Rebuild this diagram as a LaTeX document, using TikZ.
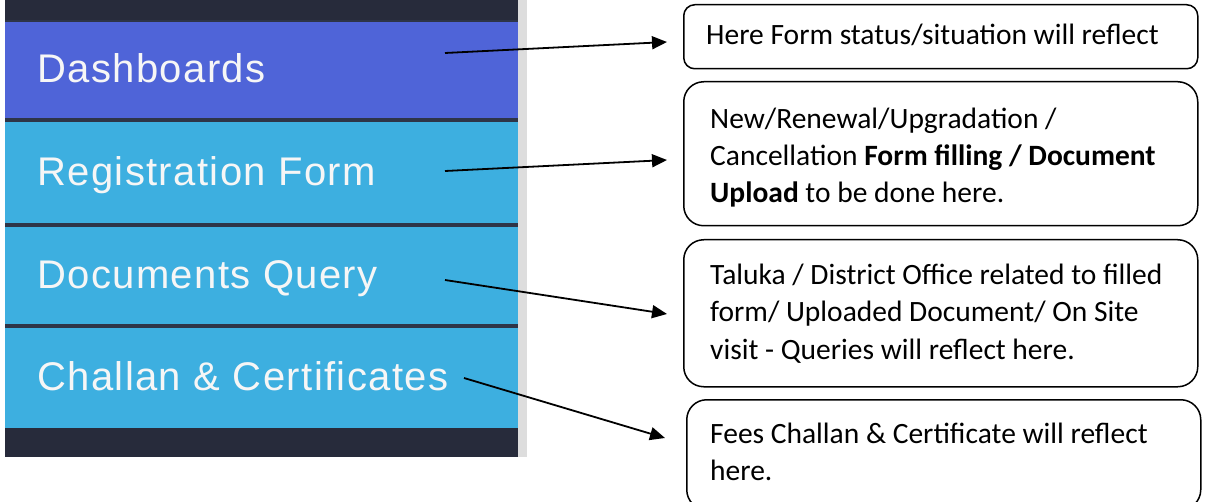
\documentclass[tikz,border=0pt]{standalone}
\usepackage{fontspec}
\setmainfont{Carlito}
\newfontfamily\menufont[LetterSpace=3.5]{Liberation Sans}
\usetikzlibrary{arrows.meta}

\definecolor{navdark}{HTML}{272B3B}
\definecolor{navsep}{HTML}{2E3548}
\definecolor{navactive}{HTML}{4F64D8}
\definecolor{navitem}{HTML}{3DAFE0}
\definecolor{navedge}{HTML}{DDDDDD}
\definecolor{menutext}{HTML}{F6F6F6}

% stack of lines whose baseline is the first line's baseline
\newcommand\notelines[1]{\vtop{\def\nl{\egroup\hbox\bgroup}\hbox\bgroup#1\egroup}}

\tikzset{
  menulabel/.style={anchor=base west, inner sep=0pt, text=menutext,
    font=\menufont\fontsize{40}{40}\selectfont},
  notebox/.style={draw=black, line width=1.5pt, anchor=north west, inner sep=0pt},
  notetext/.style={anchor=base west, inner sep=0pt,
    font=\fontsize{29.5}{37}\selectfont},
  pointer/.style={draw=black, line width=1.8pt,
    -{Triangle[length=15pt,width=13pt]}}
}

\begin{document}
\begin{tikzpicture}[x=1pt,y=-1pt]
  \useasboundingbox (0,0) rectangle (1209,502);
  \fill[white] (0,0) rectangle (1209,502);

  % side menu
  \fill[navedge] (518,0) rectangle (527,457);
  \fill[navdark] (5,0) rectangle (518,457);
  \fill[navsep] (5,20) rectangle (518,428);
  \fill[navactive] (5,22) rectangle (518,118);
  \fill[navitem] (5,122) rectangle (518,223);
  \fill[navitem] (5,227) rectangle (518,324);
  \fill[navitem] (5,328) rectangle (518,428);

  \node[menulabel] (dash) at (37,83)  {Dashboards};
  \node[menulabel] (reg)  at (37,186) {Registration Form};
  \node[menulabel] (docs) at (37,289) {Documents Query};
  \node[menulabel] (chal) at (37,390) {Challan \& Certificates};

  % note boxes
  \node[notebox, rounded corners=11pt, minimum width=514pt, minimum height=64pt]
    (box1) at (683,4) {};
  \node[notebox, rounded corners=20pt, minimum width=514pt, minimum height=144pt]
    (box2) at (683,81) {};
  \node[notebox, rounded corners=20pt, minimum width=514pt, minimum height=147pt]
    (box3) at (683,239) {};
  \node[notebox, rounded corners=20pt, minimum width=514pt, minimum height=110pt]
    (box4) at (686,399) {};

  \node[notetext] (t1) at (706,45) {Here Form status/situation will reflect};
  \node[notetext] (t2) at (710,129) {\notelines{New/Renewal/Upgradation /\nl
    Cancellation \textbf{Form filling / Document}\nl
    \textbf{Upload} to be done here.}};
  \node[notetext] (t3) at (710,285) {\notelines{Taluka / District Office related to filled\nl
    form/ Uploaded Document/ On Site\nl
    visit - Queries will reflect here.}};
  \node[notetext] (t4) at (710,443) {\notelines{Fees Challan \& Certificate will reflect\nl
    here.}};

  % pointers from menu items to notes
  \coordinate (p1s) at (445,53);  \coordinate (p1e) at (667,42);
  \coordinate (p2s) at (445,171); \coordinate (p2e) at (667,160);
  \coordinate (p3s) at (445,280); \coordinate (p3e) at (667,314);
  \coordinate (p4s) at (464,378); \coordinate (p4e) at (665,438);

  \draw[pointer] (p1s) -- (p1e);
  \draw[pointer] (p2s) -- (p2e);
  \draw[pointer] (p3s) -- (p3e);
  \draw[pointer] (p4s) -- (p4e);
\end{tikzpicture}
\end{document}
